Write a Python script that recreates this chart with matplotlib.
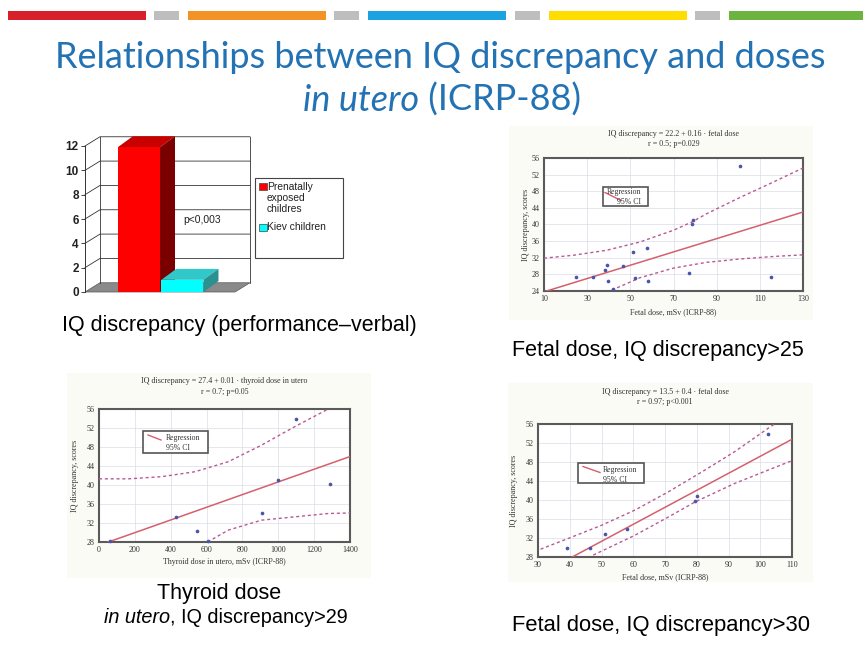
import numpy as np
import matplotlib
matplotlib.use("Agg")
import matplotlib.pyplot as plt
import matplotlib.transforms as mtransforms
from matplotlib.patches import Rectangle, Polygon

W, H = 863, 651

# column chart: IQ discrepancy (performance - verbal)
bar_groups = ["Prenatally\nexposed\nchildres", "Kiev children"]
bar_values = [11.9, 1.0]
bar_ticks = [0, 2, 4, 6, 8, 10, 12]
bar_front = ["#FF0000", "#00FFFF"]
bar_top = ["#C80000", "#30C8C8"]
bar_side = ["#7A0000", "#2A9090"]
p_label = "p<0,003"

# fetal dose, IQ discrepancy > 25
fd25_dose = [100.8, 78.9, 78.4, 51.1, 57.9, 39.3, 46.5, 38.4, 24.8, 32.8,
             52.2, 39.8, 58.3, 77.3, 115.2, 42.0]
fd25_iq = [54.1, 41.2, 40.0, 33.3, 34.3, 30.3, 30.1, 29.0, 27.3, 27.4,
           27.2, 26.4, 26.4, 28.3, 27.3, 24.6]
fd25_fit = (22.2, 0.16)
fd25_up_x = [10, 23.6, 39.0, 54.5, 69.9, 78.5, 85.4, 100.8, 116.2, 130]
fd25_up_y = [31.9, 32.6, 33.8, 35.8, 38.6, 40.6, 42.6, 46.5, 50.2, 53.6]
fd25_lo_x = [41.4, 54.5, 69.9, 85.4, 100.8, 116.2, 130]
fd25_lo_y = [24.2, 27.2, 29.5, 30.9, 31.7, 32.3, 32.7]

# thyroid dose in utero, IQ discrepancy > 29
thy_dose = [1099, 997, 1290, 911, 430, 547, 606, 60]
thy_iq = [54.0, 41.1, 40.2, 34.2, 33.2, 30.3, 28.2, 28.3]
thy_fit = (27.3, 0.01335)
thy_up_x = [0, 164, 350, 536, 721, 907, 1093, 1279]
thy_up_y = [41.3, 41.3, 41.75, 42.8, 44.9, 48.4, 52.3, 56.0]
thy_lo_x = [606, 721, 907, 1093, 1279, 1400]
thy_lo_y = [28.0, 30.5, 32.6, 33.3, 34.0, 34.1]

# fetal dose, IQ discrepancy > 30
fd30_dose = [102.5, 80.0, 79.5, 57.9, 51.1, 46.4, 39.0]
fd30_iq = [53.9, 40.8, 39.8, 34.0, 32.9, 30.0, 29.9]
fd30_fit = (13.4, 0.358)
fd30_up_x = [29.1, 39.5, 50.1, 60.6, 71.0, 81.6, 92.0, 102.5, 104.5]
fd30_up_y = [29.2, 31.9, 34.7, 37.9, 41.7, 45.9, 50.2, 55.1, 56.0]
fd30_lo_x = [47.4, 60.6, 71.0, 79.5, 92.0, 102.5, 110.4]
fd30_lo_y = [28.4, 32.6, 36.4, 39.6, 43.5, 46.3, 48.4]

fig = plt.figure(figsize=(W / 100, H / 100), dpi=100)
fig.patch.set_facecolor("white")

# pixel coordinates (origin top-left) -> figure
pix = mtransforms.Affine2D().scale(1 / W, -1 / H).translate(0, 1) + fig.transFigure


def px_box(x0, y0, x1, y1):
    return [x0 / W, 1 - y1 / H, (x1 - x0) / W, (y1 - y0) / H]


def ptext(x, y, s, **kw):
    return fig.text(x, y, s, transform=pix, **kw)


# colour stripes at the top
stripes = [(8, 146, "#D7202A"), (154, 179, "#BEBEBE"), (188, 326, "#F39325"),
           (334, 359, "#BEBEBE"), (368, 506, "#1AA3E0"), (515, 540, "#BEBEBE"),
           (549, 687, "#FFDD00"), (695, 720, "#BEBEBE"), (729, 870, "#6DB33F")]
for x0, x1, c in stripes:
    fig.add_artist(Rectangle((x0, 11), x1 - x0, 9, transform=pix, color=c, lw=0, zorder=-1))

renderer = fig.canvas.get_renderer()


def mixed_line(parts, xc, y, **kw):
    # parts: list of (text, style); laid out left to right, centred on xc
    objs = [ptext(0, y, s, fontstyle=st, va="baseline", ha="left", **kw) for s, st in parts]
    widths = [o.get_window_extent(renderer).width for o in objs]
    x = xc - sum(widths) / 2
    for o, w in zip(objs, widths):
        o.set_x(x)
        x += w


title_kw = dict(family="Lato", fontsize=26, color="#2272B4")
mixed_line([("Relationships between IQ discrepancy and doses", "normal")], 440, 68, **title_kw)
mixed_line([("in utero", "italic"), (" (ICRP-88)", "normal")], 442, 111, **title_kw)

# ---------- 3-D style column chart ----------
ax1 = fig.add_axes(px_box(85, 146, 235, 292))
xl, xr = -1.24, 2.21
ax1.set_xlim(xl, xr)
ax1.set_ylim(0, 12)
dxw, dyw = 0.345, 0.76   # wall depth
dxb, dyb = 0.345, 0.9    # bar depth
ax1.add_patch(Polygon([(xl + dxw, dyw), (xr + dxw, dyw), (xr + dxw, 12 + dyw), (xl + dxw, 12 + dyw)],
                      closed=True, fc="white", ec="none", clip_on=False))
ax1.add_patch(Polygon([(xl, 0), (xr, 0), (xr + dxw, dyw), (xl + dxw, dyw)],
                      closed=True, fc="#8A8A8A", ec="#555555", lw=0.5, clip_on=False))
for v in bar_ticks[1:]:
    ax1.plot([xl, xl + dxw, xr + dxw], [v, v + dyw, v + dyw], color="#333333", lw=0.6, clip_on=False)
ax1.plot([xl + dxw, xl + dxw], [dyw, 12 + dyw], color="#333333", lw=0.6, clip_on=False)
ax1.plot([xr + dxw, xr + dxw], [dyw, 12 + dyw], color="#333333", lw=0.6, clip_on=False)

bw = 0.97
xpos = np.arange(len(bar_values))
ax1.bar(xpos, bar_values, width=bw, color=bar_front, edgecolor="none", zorder=3)
for x, v, ct, cs in zip(xpos, bar_values, bar_top, bar_side):
    l, r = x - bw / 2, x + bw / 2
    ax1.add_patch(Polygon([(l, v), (r, v), (r + dxb, v + dyb), (l + dxb, v + dyb)],
                          closed=True, fc=ct, ec="none", zorder=2, clip_on=False))
    ax1.add_patch(Polygon([(r, 0), (r, v), (r + dxb, v + dyb), (r + dxb, dyb)],
                          closed=True, fc=cs, ec="none", zorder=2, clip_on=False))

for s in ["top", "right", "bottom"]:
    ax1.spines[s].set_visible(False)
ax1.spines["left"].set_color("#333333")
ax1.spines["left"].set_linewidth(0.7)
ax1.set_xticks([])
ax1.set_yticks(bar_ticks)
ax1.tick_params(axis="y", length=3, width=0.6, pad=1.5, labelsize=8.5, colors="#222222")
for t in ax1.get_yticklabels():
    t.set_fontweight("bold")
    t.set_family("Liberation Sans")
ax1.set_facecolor("none")

# legend of the column chart
fig.add_artist(Rectangle((255, 178), 88, 80, transform=pix, fc="white", ec="#444444", lw=0.8))
fig.add_artist(Rectangle((259, 183), 7.5, 7, transform=pix, fc=bar_front[0], ec="#444444", lw=0.5))
fig.add_artist(Rectangle((259, 223.5), 7.5, 7, transform=pix, fc=bar_front[1], ec="#444444", lw=0.5))
lab_kw = dict(family="Liberation Sans", fontsize=7.4, color="#222222", va="center", ha="left",
              linespacing=1.1)
ptext(267, 198, bar_groups[0], **lab_kw)
ptext(267, 227, bar_groups[1], **lab_kw)
ptext(183, 220, p_label, family="Liberation Sans", fontsize=7.4, color="#222222", va="center")

cap_kw = dict(family="Liberation Sans", fontsize=15.5, color="black")
ptext(62, 331, "IQ discrepancy (performance\u2013verbal)", va="baseline", **cap_kw)

# ---------- scatter panels ----------
serif = "Liberation Serif"
reg_col = "#D4606E"
ci_col = "#BA5A94"
dot_col = "#4B55A8"


def scatter_panel(box, bg, dose, iq, fit, up_x, up_y, lo_x, lo_y, xticks, yticks,
                  eq, stat, title_y, xlabel, xlabel_y, ylabel_x, leg):
    fig.add_artist(Rectangle((bg[0], bg[1]), bg[2] - bg[0], bg[3] - bg[1], transform=pix,
                             fc="#FBFBF6", ec="none", zorder=-1))
    ax = fig.add_axes(px_box(*box))
    ax.set_xlim(xticks[0], xticks[-1])
    ax.set_ylim(yticks[0], yticks[-1])
    ax.set_xticks(xticks)
    ax.set_yticks(yticks)
    ax.grid(color="#D9DDE8", lw=0.5)
    ax.set_axisbelow(True)
    xx = np.array([xticks[0], xticks[-1]], float)
    ax.plot(xx, fit[0] + fit[1] * xx, color=reg_col, lw=1.1, zorder=3)
    ax.plot(up_x, up_y, color=ci_col, lw=1.0, ls=(0, (2.2, 2.0)), zorder=3)
    ax.plot(lo_x, lo_y, color=ci_col, lw=1.0, ls=(0, (2.2, 2.0)), zorder=3)
    ax.scatter(dose, iq, s=7, color=dot_col, zorder=4, clip_on=False, linewidths=0)
    for s in ax.spines.values():
        s.set_color("#5A5A5A")
        s.set_linewidth(1.5)
    ax.tick_params(length=0, labelsize=5.8, colors="#333333", pad=3)
    for t in ax.get_xticklabels() + ax.get_yticklabels():
        t.set_family(serif)
    xc = (box[0] + box[2]) / 2
    yc = (box[1] + box[3]) / 2
    tk = dict(family=serif, fontsize=5.8, color="#333333", ha="center", va="center")
    ptext(xc, title_y, eq, **tk)
    ptext(xc, title_y + 10.5, stat, **tk)
    ptext(xc, xlabel_y, xlabel, **tk)
    ptext(ylabel_x, yc, "IQ discrepancy, scores", rotation=90, **tk)
    # legend box
    lx0, ly0, lx1, ly1, line, tx, ty1, ty2 = leg
    ax.add_artist(Rectangle((lx0, ly0), lx1 - lx0, ly1 - ly0, transform=pix, fc="white",
                            ec="#555555", lw=1.2, clip_on=False, zorder=5))
    ax.plot(line[0], line[1], transform=pix, color=reg_col, lw=1.0, clip_on=False, zorder=6)
    lk = dict(family=serif, fontsize=5.6, color="#333333", ha="left", va="center", zorder=6)
    ax.text(tx, ty1, "Regression", transform=pix, **lk)
    ax.text(tx + (10 if tx < lx0 + 10 else 0), ty2, "95% CI", transform=pix, **lk)


scatter_panel((544, 158, 803, 291), (509, 126, 813, 320), fd25_dose, fd25_iq, fd25_fit,
              fd25_up_x, fd25_up_y, fd25_lo_x, fd25_lo_y,
              [10, 30, 50, 70, 90, 110, 130], [24, 28, 32, 36, 40, 44, 48, 52, 56],
              "IQ discrepancy = 22.2 + 0.16 \u00b7 fetal dose", "r = 0.5; p=0.029", 134,
              "Fetal dose, mSv (ICRP-88)", 312, 526,
              (603, 187, 648, 206, ([605, 621], [192.5, 200.5]), 607, 192, 202.5))

scatter_panel((99, 409, 350, 542), (67, 373, 371, 578), thy_dose, thy_iq, thy_fit,
              thy_up_x, thy_up_y, thy_lo_x, thy_lo_y,
              [0, 200, 400, 600, 800, 1000, 1200, 1400], [28, 32, 36, 40, 44, 48, 52, 56],
              "IQ discrepancy = 27.4 + 0.01 \u00b7 thyroid dose in utero", "r = 0.7; p=0.05", 381,
              "Thyroid dose in utero, mSv (ICRP-88)", 562, 75,
              (143, 431, 208, 453, ([148, 161], [435, 440]), 166, 438, 448))

scatter_panel((538, 424, 792, 557), (508, 383, 813, 582), fd30_dose, fd30_iq, fd30_fit,
              fd30_up_x, fd30_up_y, fd30_lo_x, fd30_lo_y,
              [30, 40, 50, 60, 70, 80, 90, 100, 110], [28, 32, 36, 40, 44, 48, 52, 56],
              "IQ discrepancy = 13.5 + 0.4 \u00b7 fetal dose", "r = 0.97; p<0.001", 392,
              "Fetal dose, mSv (ICRP-88)", 577, 514,
              (578, 463, 644, 483, ([583, 600], [466.5, 472.5]), 603, 470, 480))

ptext(512, 356, "Fetal dose, IQ discrepancy>25", va="baseline", **cap_kw)
mixed_line([("Thyroid dose", "normal")], 219, 599, **cap_kw)
cap2_kw = dict(cap_kw, fontsize=14.3)
mixed_line([("in utero", "italic"), (", IQ discrepancy>29", "normal")], 226, 623, **cap2_kw)
ptext(512, 631, "Fetal dose, IQ discrepancy>30", va="baseline", **dict(cap_kw, fontsize=15.8))

fig.savefig("out.png", dpi=100)
